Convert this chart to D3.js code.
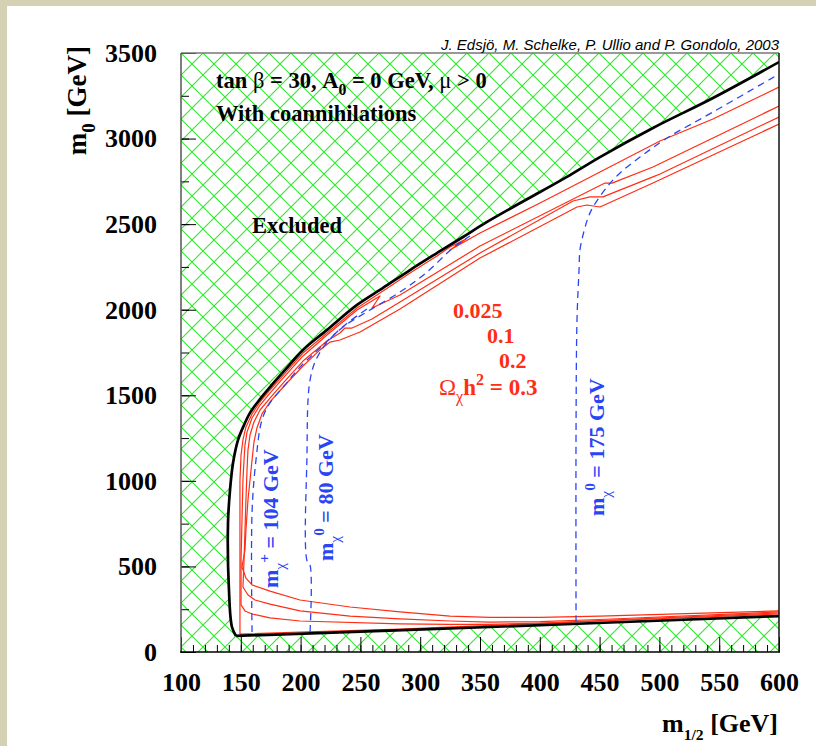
<!DOCTYPE html>
<html>
<head>
<meta charset="utf-8">
<title>m0 - m1/2 plane</title>
<script src="https://cdnjs.cloudflare.com/ajax/libs/d3/7.8.5/d3.min.js"></script>
<style>
    body { margin: 0; background: #d5d1b5; }
    svg { display: block; }
    text { font-family: "Liberation Serif", "Times New Roman", serif; font-weight: bold; }
</style>
</head>
<body>
<svg id="chart" width="816" height="746"></svg>
<script>
    // ---- data (m1/2 [GeV], m0 [GeV]) ----
    const xMajor = d3.range(100, 601, 50)
    const xMinor = d3.range(100, 601, 10)
    const yMajor = d3.range(0, 3501, 500)
    const yMinor = d3.range(0, 3501, 250)

    // edge of the excluded region (upper curve, from the bottom left corner to the right edge)
    const boundaryTop = [[146, 94], [142.6, 146], [140.1, 362], [139.3, 754], [141, 947], [143.5, 1104],
        [147.7, 1239], [152.7, 1326], [157.7, 1397], [166.1, 1478], [174.4, 1548], [187, 1648], [202, 1765],
        [222.1, 1882], [247.2, 2028], [268.9, 2127], [291.5, 2232], [314, 2331], [335.8, 2425], [355.9, 2513],
        [400.2, 2688], [422.7, 2776], [450.3, 2892], [494.6, 3062], [544.8, 3237], [600, 3447]]
    // lower edge
    const boundaryBottom = [[146, 94], [358.4, 146], [600, 210]]

    // relic density contours
    const omega025 = [[600, 3301], [544.8, 3114], [500.5, 2986], [450.3, 2805], [400.2, 2624], [350, 2448],
        [324.9, 2349], [338.3, 2413], [324.9, 2366], [314, 2314], [291.5, 2215], [268.9, 2109], [247.2, 2010],
        [222.1, 1864], [202, 1747], [187, 1630], [174.4, 1531], [166.1, 1461], [159.4, 1391], [154.3, 1315],
        [151.8, 1239], [150.2, 1151], [149.3, 1005], [149.3, 105], [199.5, 117], [283.1, 134], [358.4, 155],
        [450.3, 181], [600, 222]]
    const omega1 = [[600, 3190], [494.6, 2834], [460.4, 2740], [454.5, 2740], [447.8, 2717], [350, 2372],
        [283.1, 2086], [259.7, 2010], [266.4, 2080], [247.2, 1998], [222.1, 1852], [202, 1730], [187, 1613],
        [174.4, 1513], [166.1, 1443], [159.4, 1367], [155.2, 1285], [153.5, 1210], [152.7, 1122], [151.8, 1005],
        [151, 771], [150.2, 538], [150.2, 275], [153.5, 240], [159.4, 222], [174.4, 199], [199.5, 181],
        [283.1, 164], [324.9, 161], [358.4, 161], [400.2, 169], [450.3, 184], [600, 228]]
    const omega2 = [[600, 3126], [500.5, 2793], [494.6, 2776], [452.8, 2659], [442, 2659], [427.8, 2635],
        [350, 2331], [283.1, 2045], [259.7, 1946], [243, 1893], [237.1, 1893], [232.9, 1864], [222.1, 1817],
        [202, 1700], [187, 1584], [174.4, 1484], [166.1, 1414], [161, 1344], [157.7, 1268], [156, 1180],
        [155.2, 1063], [154.3, 888], [153.5, 713], [152.7, 538], [151.8, 380], [156, 333], [161.9, 304],
        [174.4, 280], [199.5, 240], [241.3, 210], [283.1, 193], [324.9, 181], [358.4, 175], [400.2, 178],
        [450.3, 190], [600, 234]]
    const omega3 = [[600, 3085], [494.6, 2740], [450.3, 2600], [439.5, 2612], [431.1, 2600], [350, 2302],
        [283.1, 2004], [249.7, 1870], [232.9, 1823], [224.6, 1811], [216.2, 1765], [202, 1671], [187, 1560],
        [174.4, 1461], [167.7, 1391], [163.5, 1309], [161, 1227], [159.4, 1122], [157.7, 1005], [156, 888],
        [154.3, 713], [153.5, 596], [151, 497], [154.3, 432], [159.4, 392], [174.4, 356], [199.5, 304],
        [241.3, 263], [283.1, 234], [324.9, 210], [358.4, 202], [400.2, 202], [450.3, 210], [600, 240]]
    const omegaContours = [omega025, omega1, omega2, omega3]

    // mass contours
    const mChargino104 = [[159.4, 117], [159.4, 818], [162.7, 1122], [167.7, 1356], [174.4, 1455], [187, 1560],
        [199.5, 1665], [216.2, 1776], [237.1, 1911], [258, 2016]]
    const mNeutralino80 = [[207.9, 117], [207.9, 508], [205.4, 532], [205.4, 1180], [206.2, 1472], [207.9, 1589],
        [212, 1694], [220.4, 1794], [235.5, 1899], [258, 1998], [285.6, 2115], [305.7, 2220], [327.4, 2361],
        [341.6, 2431]]
    const mNeutralino175 = [[430.3, 175], [430.3, 1297], [431.1, 1940], [432.8, 2232], [433.6, 2349],
        [437, 2460], [440.5, 2540], [444.5, 2600], [456.2, 2717], [467.1, 2799], [483.8, 2892], [506.4, 3003],
        [544.8, 3155], [600, 3377]]
    const massContours = [mChargino104, mNeutralino80, mNeutralino175]

    // ---- drawing ----
    const redCol = '#ff2d14', blueCol = '#2a45f5'
    const svg = d3.select('#chart')

    svg.append('rect').attr('x', 7).attr('y', 6).attr('width', 809).attr('height', 740).attr('fill', 'white')

    const x = d3.scaleLinear().domain([100, 600]).range([181, 779])
    const y = d3.scaleLinear().domain([0, 3500]).range([652, 53])
    const line = d3.line().x(d => x(d[0])).y(d => y(d[1]))
    const smooth = d3.line().x(d => x(d[0])).y(d => y(d[1])).curve(d3.curveCatmullRom.alpha(0.5))

    const defs = svg.append('defs')
    const hatch = defs.append('pattern')
        .attr('id', 'hatch')
        .attr('patternUnits', 'userSpaceOnUse')
        .attr('x', 181).attr('y', 53)
        .attr('width', 22).attr('height', 22)
    hatch.append('path')
        .attr('d', 'M0,0L22,22M22,0L0,22M-1,21L1,23M21,-1L23,1M-1,1L1,-1M21,23L23,21')
        .attr('stroke', '#2de82d').attr('stroke-width', 1.1).attr('fill', 'none')

    defs.append('clipPath').attr('id', 'frameClip')
        .append('rect').attr('x', 181).attr('y', 53).attr('width', 598).attr('height', 599)

    const plot = svg.append('g').attr('clip-path', 'url(#frameClip)')

    plot.append('rect')
        .attr('x', 181).attr('y', 53).attr('width', 598).attr('height', 599)
        .attr('fill', 'url(#hatch)')

    // allowed region is white
    const allowed = boundaryTop.concat(boundaryBottom.slice().reverse())
    plot.append('path')
        .attr('d', line(allowed) + 'Z')
        .attr('fill', 'white')

    plot.selectAll('.omega')
        .data(omegaContours)
        .enter()
        .append('path')
        .attr('class', 'omega')
        .attr('d', d => line(d))
        .attr('fill', 'none')
        .attr('stroke', redCol)
        .attr('stroke-width', 1.2)
        .attr('stroke-linejoin', 'round')

    plot.selectAll('.mass')
        .data(massContours)
        .enter()
        .append('path')
        .attr('class', 'mass')
        .attr('d', d => smooth(d))
        .attr('fill', 'none')
        .attr('stroke', blueCol)
        .attr('stroke-width', 1.3)
        .attr('stroke-dasharray', '7,5')

    plot.selectAll('.edge')
        .data([boundaryTop, boundaryBottom])
        .enter()
        .append('path')
        .attr('class', 'edge')
        .attr('d', d => smooth(d))
        .attr('fill', 'none')
        .attr('stroke', 'black')
        .attr('stroke-width', 2.7)
        .attr('stroke-linejoin', 'round')

    // ---- axes ----
    function styleAxis(g) {
        g.select('.domain').remove()
        g.selectAll('.tick line').attr('stroke', 'black').attr('stroke-width', 1)
        g.selectAll('.tick text')
            .attr('fill', 'black')
            .style('font-family', '"Liberation Serif", serif')
            .style('font-weight', 'bold')
            .style('font-size', '26px')
    }

    svg.append('g').attr('transform', 'translate(0,' + y(0) + ')')
        .call(d3.axisBottom(x).tickValues(xMinor).tickSize(-7).tickFormat(''))
        .call(styleAxis)
    svg.append('g').attr('transform', 'translate(0,' + y(0) + ')')
        .call(d3.axisBottom(x).tickValues(xMajor).tickSize(-15).tickPadding(21).tickFormat(d3.format('d')))
        .call(styleAxis)
    svg.append('g').attr('transform', 'translate(' + x(100) + ',0)')
        .call(d3.axisLeft(y).tickValues(yMinor).tickSize(-8).tickFormat(''))
        .call(styleAxis)
    svg.append('g').attr('transform', 'translate(' + x(100) + ',0)')
        .call(d3.axisLeft(y).tickValues(yMajor).tickSize(-15).tickPadding(24).tickFormat(d3.format('d')))
        .call(styleAxis)

    // frame
    svg.append('line').attr('x1', 181).attr('x2', 779).attr('y1', 53).attr('y2', 53)
        .attr('stroke', '#777').attr('stroke-width', 1.6)
    svg.append('line').attr('x1', 779).attr('x2', 779).attr('y1', 53).attr('y2', 652)
        .attr('stroke', '#111').attr('stroke-width', 1.5)
    svg.append('line').attr('x1', 181).attr('x2', 181).attr('y1', 53).attr('y2', 652)
        .attr('stroke', '#555').attr('stroke-width', 1.5)
    svg.append('line').attr('x1', 180).attr('x2', 780).attr('y1', 652).attr('y2', 652)
        .attr('stroke', 'black').attr('stroke-width', 1.6)

    // ---- texts ----
    function rich(sel, parts, size) {
        let shift = 0
        parts.forEach(function(p) {
            let target = p.sub ? size * 0.32 : (p.sup ? -size * 0.42 : 0)
            let small = p.scale || 0.7
            sel.append('tspan')
                .attr('dy', target - shift)
                .style('font-size', ((p.sub || p.sup) ? size * small : size) + 'px')
                .style('font-weight', p.normal ? 'normal' : null)
                .text(p.t)
            shift = target
        })
        return sel
    }

    svg.append('text')
        .attr('x', 779).attr('y', 50)
        .attr('text-anchor', 'end')
        .style('font-family', '"Liberation Sans", Arial, sans-serif')
        .style('font-weight', 'normal')
        .style('font-style', 'italic')
        .style('font-size', '15px')
        .text('J. Edsjö, M. Schelke, P. Ullio and P. Gondolo, 2003')

    rich(svg.append('text').attr('x', 216).attr('y', 88), [
        { t: 'tan ' }, { t: 'β', normal: true }, { t: ' = 30, A' }, { t: '0', sub: true },
        { t: ' = 0 GeV, ' }, { t: 'μ', normal: true }, { t: ' > 0' }
    ], 22.5)
    svg.append('text').attr('x', 216).attr('y', 121).style('font-size', '22.5px').text('With coannihilations')
    svg.append('text').attr('x', 252).attr('y', 233).style('font-size', '22.5px').text('Excluded')

    const omegaLabels = [['0.025', 453, 318], ['0.1', 487, 343], ['0.2', 499, 368]]
    omegaLabels.forEach(function(l) {
        svg.append('text').attr('x', l[1]).attr('y', l[2])
            .attr('fill', redCol).style('font-size', '22px').text(l[0])
    })
    rich(svg.append('text').attr('x', 439).attr('y', 395).attr('fill', redCol), [
        { t: 'Ω', normal: true }, { t: 'χ', sub: true, normal: true }, { t: 'h' }, { t: '2', sup: true },
        { t: ' = 0.3' }
    ], 23)

    function massLabel(px, py, sup, val) {
        rich(svg.append('text')
            .attr('transform', 'translate(' + px + ',' + py + ') rotate(-90)')
            .attr('fill', blueCol), [
            { t: 'm' }, { t: 'χ', sub: true, normal: true }, { t: sup, sup: true }, { t: ' = ' + val + ' GeV' }
        ], 22)
    }
    massLabel(278, 588, '+', '104')
    massLabel(333, 561, '0', '80')
    massLabel(604, 516, '0', '175')

    // axis titles
    rich(svg.append('text').attr('x', 778).attr('y', 732).attr('text-anchor', 'end'), [
        { t: 'm' }, { t: '1/2', sub: true, scale: 0.6 }, { t: ' [GeV]' }
    ], 26)
    rich(svg.append('text')
        .attr('transform', 'translate(86,46) rotate(-90)')
        .attr('text-anchor', 'end'), [
        { t: 'm' }, { t: '0', sub: true }, { t: ' [GeV]' }
    ], 27)
</script>
</body>
</html>
